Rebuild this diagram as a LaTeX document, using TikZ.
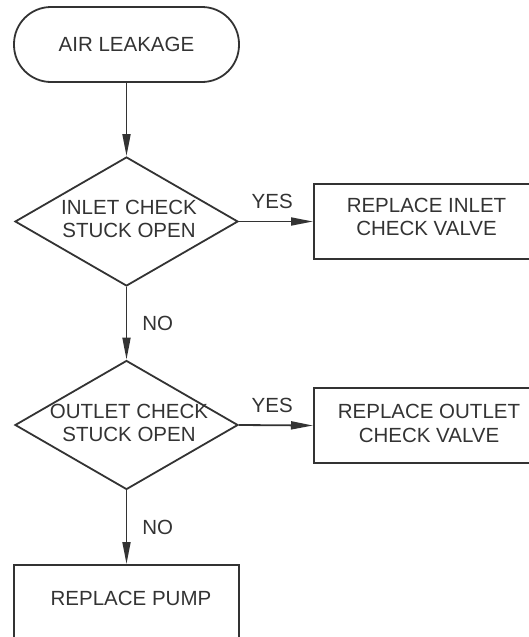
\documentclass[tikz,border=0pt]{standalone}
\usepackage{fontspec}
\setmainfont{Liberation Sans}
\usetikzlibrary{shapes.geometric,arrows.meta}
\definecolor{ink}{HTML}{333333}
\tikzset{
  x=1pt,y=-1pt,
  every node/.style={font=\fontsize{20.5}{23.5}\selectfont, text=ink, align=center, inner sep=0pt},
  line/.style={draw=ink, line width=1.8pt},
  term/.style={line, rounded corners=37pt, minimum width=225pt, minimum height=75pt},
  decision/.style={line, diamond, aspect=1.73, minimum width=223pt, minimum height=129pt},
  actbox/.style={line, rectangle},
  flow/.style={line, -{Triangle[length=22pt,width=8pt]}},
  lbl/.style={}
}
\begin{document}
\begin{tikzpicture}
\useasboundingbox (0,0) rectangle (529,637);
\node[term] (start) at (126.5,44.5) {AIR LEAKAGE};
\node[decision] (d1) at (126.5,221.5) {};
\node (d1t) at (129,219) {INLET CHECK\\STUCK OPEN};
\node[decision] (d2) at (126.5,425) {};
\node (d2t) at (129,423) {OUTLET CHECK\\STUCK OPEN};
\node[actbox, minimum width=230pt, minimum height=75pt, anchor=west] (b1) at (313,221.5) {};
\node (b1t) at (426.5,217) {REPLACE INLET\\CHECK VALVE};
\node[actbox, minimum width=230pt, minimum height=75pt, anchor=west] (b2) at (313,425.5) {};
\node (b2t) at (429,423.5) {REPLACE OUTLET\\CHECK VALVE};
\node[actbox, minimum width=225pt, minimum height=110pt, anchor=north] (pump) at (126.5,564) {};
\node (pumpt) at (131,598) {REPLACE PUMP};
\draw[flow] (start.south) -- (d1.north);
\draw[flow] (d1.east) -- (b1.west) node[lbl, pos=0.45, above=12pt] (y1) {YES};
\draw[flow] (d1.south) -- (d2.north) node[lbl, midway, right=15pt] (n1) {NO};
\draw[flow] (d2.east) -- (b2.west) node[lbl, pos=0.45, above=12pt] (y2) {YES};
\draw[flow] (d2.south) -- (pump.north) node[lbl, midway, right=15pt] (n2) {NO};
\end{tikzpicture}
\end{document}
